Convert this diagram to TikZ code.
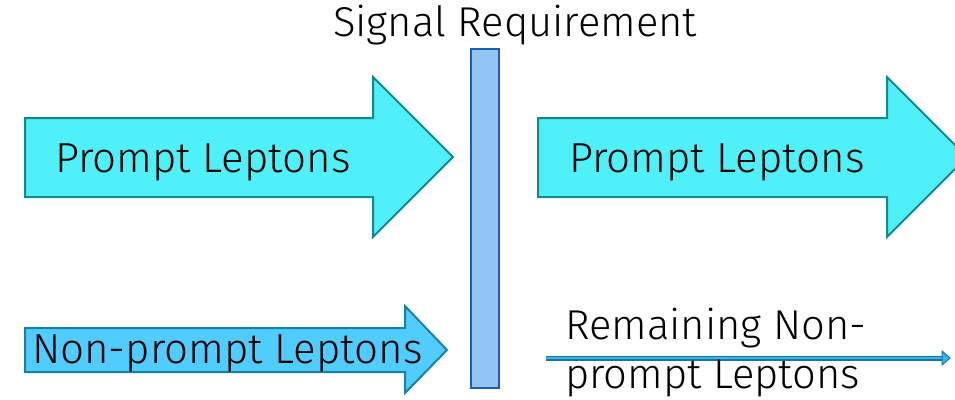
\documentclass[tikz,border=0pt]{standalone}
\usepackage{fontspec}
\setmainfont{Fira Sans Light}
\definecolor{cyanfill}{HTML}{50F0F8}
\definecolor{tealline}{HTML}{138A8E}
\definecolor{npfill}{HTML}{50CCFF}
\definecolor{npline}{HTML}{1A80A8}
\definecolor{barfill}{HTML}{92C5F6}
\definecolor{barline}{HTML}{1F5FA8}
\definecolor{thinlight}{HTML}{3BB4E6}
\definecolor{thindark}{HTML}{1677A3}
\begin{document}
\begin{tikzpicture}[x=1pt,y=-1pt,
  bigarrow/.style={fill=cyanfill,draw=tealline,line width=2pt,line join=miter},
  smallarrow/.style={fill=npfill,draw=npline,line width=2pt,line join=miter},
  lbl/.style={anchor=base west,inner sep=0pt,font=\fontsize{42}{50}\selectfont},
  ttl/.style={anchor=base west,inner sep=0pt,font=\fontsize{41.7}{50}\selectfont}]
\useasboundingbox (0,0) rectangle (955,399);
\clip (0,0) rectangle (955,399);
% arrows
\draw[bigarrow] (25,118) -- (373,118) -- (373,77) -- (453,157) -- (373,237) -- (373,197) -- (25,197) -- cycle;
\draw[bigarrow] (538,118) -- (887,118) -- (887,77) -- (967,157) -- (887,237) -- (887,197) -- (538,197) -- cycle;
\draw[smallarrow] (25,328) -- (405,328) -- (405,306) -- (447,350) -- (405,393) -- (405,372) -- (25,372) -- cycle;
% bar
\node[draw=barline,fill=barfill,line width=2.8pt,minimum width=28pt,minimum height=339pt,inner sep=0pt] (bar) at (485,218.5) {};
% thin arrow
\coordinate (ts) at (546,358);
\coordinate (te) at (942,358);
\coordinate (tip) at (950,358);
\draw[thindark,line width=5pt] (ts) -- (te);
\draw[thinlight,line width=2.2pt] (ts) -- (te);
\draw[fill=thinlight,draw=thindark,line width=1pt,line join=miter] (942,351) -- (tip) -- (942,365) -- cycle;
% texts
\node[ttl] (title) at (333,36) {Signal Requirement};
\node[lbl] (p1) at (55,172) {Prompt Leptons};
\node[lbl] (p2) at (569,172) {Prompt Leptons};
\node[lbl] (np) at (32,363) {Non-prompt Leptons};
\node[ttl] (r1) at (565,339) {Remaining Non-};
\node[ttl] (r2) at (565,388) {prompt Leptons};
\end{tikzpicture}
\end{document}
